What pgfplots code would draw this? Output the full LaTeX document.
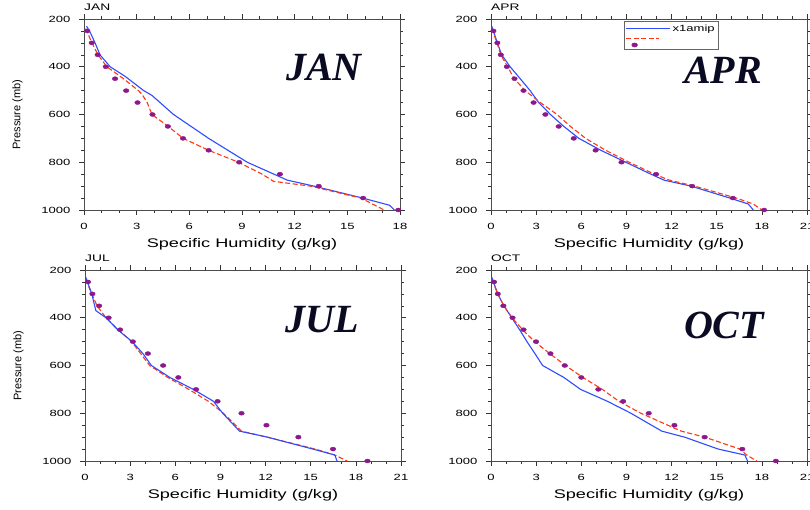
\documentclass[border=0pt]{standalone}
\usepackage{fontspec}
\setmainfont{Liberation Sans}[FakeStretch=1.45]
\newfontfamily\plainsans{Liberation Sans}
\newfontfamily\titlefont{Liberation Serif}
\usepackage{pgfplots}
\pgfplotsset{compat=1.18}

\definecolor{mblue}{RGB}{45,75,255}
\definecolor{mred}{RGB}{255,55,20}
\definecolor{mpurple}{RGB}{140,25,140}
\definecolor{navy}{RGB}{10,10,35}

\pgfplotsset{
  panel/.style={
    scale only axis, width=316pt, height=191pt,
    anchor=south west, clip=false,
    y dir=reverse, ymin=200, ymax=1000,
    ytick={200,400,600,800,1000}, minor y tick num=3,
    minor x tick num=2,
    tick align=outside, xtick pos=both, ytick pos=both,
    major tick length=5pt, minor tick length=3pt,
    axis line style={black!70, line width=0.9pt},
    every tick/.style={black!80, line width=0.6pt},
    /pgf/number format/assume math mode=true,
    /pgf/number format/1000 sep={},
    tick label style={font=\fontsize{9}{10}\selectfont},
    xticklabel style={yshift=-5pt},
    yticklabel style={xshift=-5pt},
    xlabel={Specific Humidity (g/kg)},
    xlabel style={font=\fontsize{12.5}{13}\selectfont, yshift=-2pt},
    ylabel style={font=\plainsans\fontsize{11}{12}\selectfont, yshift=12pt},
    title style={at={(rel axis cs:0,1)}, anchor=south west, inner sep=0pt,
      yshift=2pt, font=\fontsize{9.5}{10}\selectfont},
    legend cell align=left,
  },
  mod1/.style={mblue, line width=1.1pt,
    legend image code/.code={\draw[##1] (0pt,0pt) -- (44pt,0pt);}},
  mod2/.style={mred, line width=1.1pt, dash pattern=on 5pt off 2.5pt,
    legend image code/.code={\draw[##1] (0pt,0pt) -- (33pt,0pt);}},
  obs/.style={only marks, mark=*, mpurple, mark size=2pt,
    mark options={xscale=1.4, draw=mpurple, fill=mpurple}},
}

\begin{document}
\begin{tikzpicture}
\useasboundingbox (0,0) rectangle (810pt,510pt);

% JAN
\begin{axis}[panel, at={(84pt,300pt)}, xmin=0, xmax=18, xtick={0,3,...,18},
  ylabel={Pressure (mb)}, title={JAN}]
\addplot[mod1] coordinates {(0.15,230)(0.38,260)(0.63,300)(0.91,350)(1.49,400)(2.34,440)(3.4,500)(3.87,520)(5.1,600)(7.1,700)(9.3,800)(11.58,875)(13.1,900)(15.87,950)(17.4,980)(17.68,1000)};
\addplot[mod2] coordinates {(0.1,240)(0.45,300)(0.8,350)(1.3,400)(2.25,450)(3.1,500)(3.3,515)(3.6,550)(3.87,600)(4.8,650)(5.65,700)(7.1,750)(8.8,800)(10.15,850)(10.8,880)(12.9,900)(15.77,950)(17.1,1000)};
\addplot[obs] coordinates {(0.19,250)(0.44,300)(0.78,350)(1.24,400)(1.77,450)(2.4,500)(3.05,550)(3.9,600)(4.78,650)(5.64,700)(7.1,750)(8.84,800)(11.16,850)(13.37,900)(15.9,950)(17.9,1000)};
\end{axis}

% APR
\begin{axis}[panel, at={(491pt,300pt)}, xmin=0, xmax=21, xtick={0,3,...,21},
  title={APR},
  legend style={at={(rel axis cs:0.42,0.99)}, anchor=north west,
    draw=black!60, line width=0.6pt, font=\fontsize{9}{9}\selectfont,
    inner sep=1.5pt, row sep=1pt}]
\addplot[mod1] coordinates {(0.05,230)(0.42,300)(0.71,350)(1.27,400)(1.94,450)(2.6,500)(3.17,550)(3.95,600)(4.84,650)(5.84,700)(7.3,750)(8.96,800)(10.63,850)(11.5,875)(13.3,900)(15.87,950)(17.1,975)(17.43,1000)};
\addlegendentry{x1amip}
\addplot[mod2] coordinates {(0.05,240)(0.4,300)(0.65,350)(1.1,400)(1.54,450)(2.27,500)(3.28,550)(4.39,600)(5.28,650)(6.29,700)(7.62,750)(9.18,800)(10.86,850)(11.86,875)(13.53,900)(16.3,950)(17.43,975)(18.0,1000)};
\addlegendentry{}
\addplot[obs] coordinates {(0.16,250)(0.42,300)(0.65,350)(1.05,400)(1.56,450)(2.16,500)(2.83,550)(3.61,600)(4.5,650)(5.5,700)(6.95,750)(8.67,800)(10.97,850)(13.37,900)(16.07,950)(18.15,1000)};
\addlegendentry{}
\end{axis}

% JUL
\begin{axis}[panel, at={(85pt,49pt)}, xmin=0, xmax=21, xtick={0,3,...,21},
  ylabel={Pressure (mb)}, title={JUL}]
\addplot[mod2] coordinates {(0.05,240)(0.45,300)(0.8,350)(1.4,400)(2.2,450)(3.1,500)(3.7,550)(4.3,600)(5.5,650)(6.9,700)(8.2,750)(9.2,800)(10.4,875)(12.1,900)(15.3,950)(16.6,975)(17.42,1000)};
\addplot[mod1] coordinates {(0.05,230)(0.45,300)(0.72,370)(1.39,400)(2.17,450)(3.13,500)(3.85,550)(4.41,600)(5.64,650)(7.2,700)(8.54,750)(9.15,800)(10.27,875)(12.12,900)(15.14,950)(16.6,975)(16.75,1000)};
\addplot[obs] coordinates {(0.2,250)(0.49,300)(0.94,350)(1.57,400)(2.33,450)(3.18,500)(4.18,550)(5.19,600)(6.2,650)(7.38,700)(8.81,750)(10.4,800)(12.06,850)(14.18,900)(16.48,950)(18.77,1000)};
\end{axis}

% OCT
\begin{axis}[panel, at={(491pt,49pt)}, xmin=0, xmax=21, xtick={0,3,...,21},
  title={OCT}]
\addplot[mod1] coordinates {(0.05,230)(0.45,300)(0.85,350)(1.38,400)(1.9,450)(2.39,500)(2.92,550)(3.43,600)(4.84,650)(5.95,700)(7.74,750)(9.3,800)(11.35,875)(12.86,900)(15.1,950)(16.87,975)(17.05,1000)};
\addplot[mod2] coordinates {(0.05,240)(0.45,300)(0.85,350)(1.4,400)(2.1,450)(2.9,500)(3.9,550)(4.95,600)(6.1,650)(7.4,700)(8.5,750)(9.96,800)(11.75,850)(12.64,875)(14.2,900)(16.54,950)(16.99,975)(17.66,1000)};
\addplot[obs] coordinates {(0.2,250)(0.45,300)(0.82,350)(1.43,400)(2.16,450)(2.99,500)(3.95,550)(4.9,600)(6.0,650)(7.13,700)(8.78,750)(10.48,800)(12.19,850)(14.2,900)(16.7,950)(18.93,1000)};
\end{axis}

% month titles
\begin{scope}[every node/.style={font=\titlefont\bfseries\itshape\fontsize{40}{40}\selectfont, text=navy}]
\node at (324pt,442pt) {JAN};
\node at (723pt,440pt) {APR};
\node at (322pt,190pt) {JUL};
\node at (724pt,185pt) {OCT};
\end{scope}
\end{tikzpicture}
\end{document}
